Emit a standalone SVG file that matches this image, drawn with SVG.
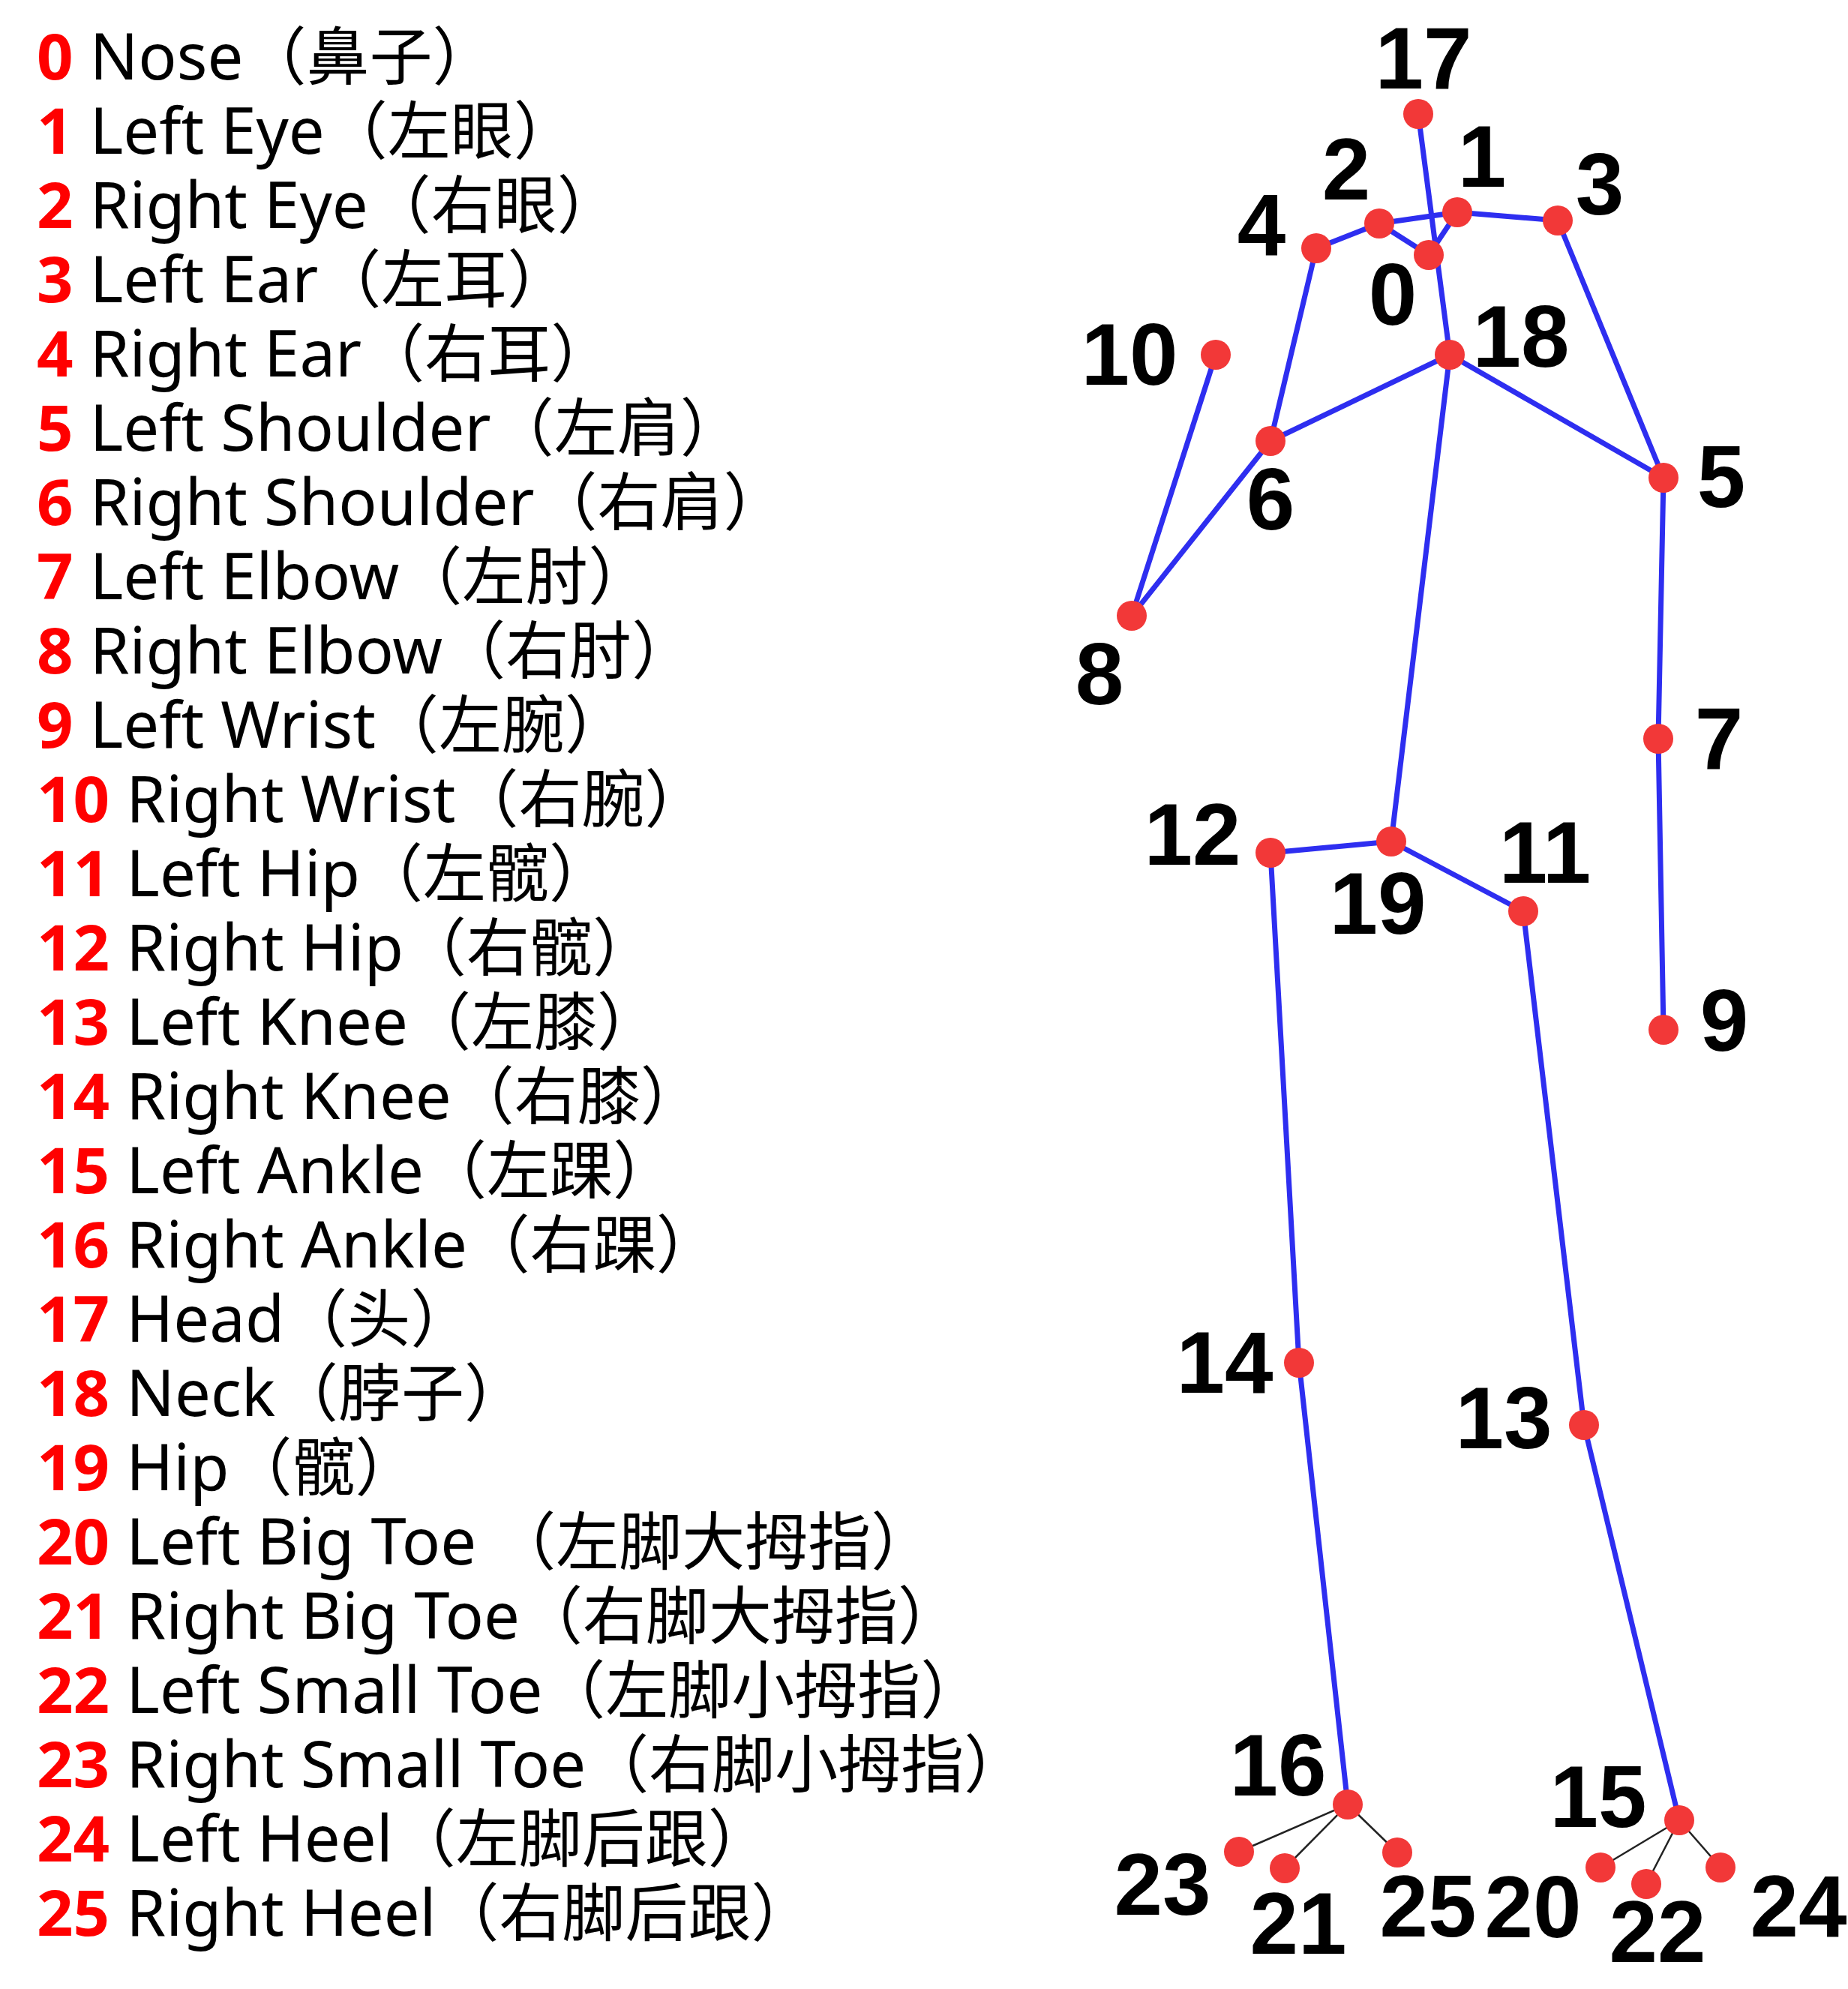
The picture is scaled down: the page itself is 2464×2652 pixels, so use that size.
<svg xmlns="http://www.w3.org/2000/svg" width="2464" height="2652" viewBox="0 0 2464 2652">
<style>
.leg{font-family:"Noto Sans","Noto Sans CJK SC",sans-serif;font-size:85px;fill:#000}
.num{font-weight:bold;fill:#ff0000}
.cj{font-size:84px}
.lbl{font-family:"Liberation Sans",Arial,sans-serif;font-weight:bold;font-size:116px;fill:#000;text-anchor:middle}
.dot{fill:#f23838}
.bone{stroke:#2e2ef0;stroke-width:7;stroke-linecap:round;fill:none}
.toe{stroke:#222;stroke-width:2.5;fill:none}
</style>
<rect width="2464" height="2652" fill="#fff"/>
<g id="legend" class="leg">
<text x="49" y="106"><tspan class="num">0</tspan> Nose<tspan class="cj">（鼻子）</tspan></text>
<text x="49" y="205"><tspan class="num">1</tspan> Left Eye<tspan class="cj">（左眼）</tspan></text>
<text x="49" y="304"><tspan class="num">2</tspan> Right Eye<tspan class="cj">（右眼）</tspan></text>
<text x="49" y="403"><tspan class="num">3</tspan> Left Ear<tspan class="cj">（左耳）</tspan></text>
<text x="49" y="502"><tspan class="num">4</tspan> Right Ear<tspan class="cj">（右耳）</tspan></text>
<text x="49" y="601"><tspan class="num">5</tspan> Left Shoulder<tspan class="cj">（左肩）</tspan></text>
<text x="49" y="700"><tspan class="num">6</tspan> Right Shoulder<tspan class="cj">（右肩）</tspan></text>
<text x="49" y="799"><tspan class="num">7</tspan> Left Elbow<tspan class="cj">（左肘）</tspan></text>
<text x="49" y="898"><tspan class="num">8</tspan> Right Elbow<tspan class="cj">（右肘）</tspan></text>
<text x="49" y="997"><tspan class="num">9</tspan> Left Wrist<tspan class="cj">（左腕）</tspan></text>
<text x="49" y="1096"><tspan class="num">10</tspan> Right Wrist<tspan class="cj">（右腕）</tspan></text>
<text x="49" y="1195"><tspan class="num">11</tspan> Left Hip<tspan class="cj">（左髋）</tspan></text>
<text x="49" y="1294"><tspan class="num">12</tspan> Right Hip<tspan class="cj">（右髋）</tspan></text>
<text x="49" y="1393"><tspan class="num">13</tspan> Left Knee<tspan class="cj">（左膝）</tspan></text>
<text x="49" y="1492"><tspan class="num">14</tspan> Right Knee<tspan class="cj">（右膝）</tspan></text>
<text x="49" y="1591"><tspan class="num">15</tspan> Left Ankle<tspan class="cj">（左踝）</tspan></text>
<text x="49" y="1690"><tspan class="num">16</tspan> Right Ankle<tspan class="cj">（右踝）</tspan></text>
<text x="49" y="1789"><tspan class="num">17</tspan> Head<tspan class="cj">（头）</tspan></text>
<text x="49" y="1888"><tspan class="num">18</tspan> Neck<tspan class="cj">（脖子）</tspan></text>
<text x="49" y="1987"><tspan class="num">19</tspan> Hip<tspan class="cj">（髋）</tspan></text>
<text x="49" y="2086"><tspan class="num">20</tspan> Left Big Toe <tspan class="cj">（左脚大拇指）</tspan></text>
<text x="49" y="2185"><tspan class="num">21</tspan> Right Big Toe<tspan class="cj">（右脚大拇指）</tspan></text>
<text x="49" y="2284"><tspan class="num">22</tspan> Left Small Toe<tspan class="cj">（左脚小拇指）</tspan></text>
<text x="49" y="2383"><tspan class="num">23</tspan> Right Small Toe<tspan class="cj">（右脚小拇指）</tspan></text>
<text x="49" y="2482"><tspan class="num">24</tspan> Left Heel<tspan class="cj">（左脚后跟）</tspan></text>
<text x="49" y="2581"><tspan class="num">25</tspan> Right Heel<tspan class="cj">（右脚后跟）</tspan></text>
</g>
<g id="connectors">
<g class="bone">
<line x1="1891" y1="152" x2="1933" y2="473"/>
<line x1="1943" y1="283" x2="1905" y2="340"/>
<line x1="1839" y1="298" x2="1905" y2="340"/>
<line x1="1839" y1="298" x2="1943" y2="283"/>
<line x1="1943" y1="283" x2="2077" y2="294"/>
<line x1="1755" y1="331" x2="1839" y2="298"/>
<line x1="1755" y1="331" x2="1694" y2="588"/>
<line x1="2077" y1="294" x2="2218" y2="637"/>
<line x1="1933" y1="473" x2="1694" y2="588"/>
<line x1="1933" y1="473" x2="2218" y2="637"/>
<line x1="1933" y1="473" x2="1855" y2="1122"/>
<line x1="1621" y1="473" x2="1509" y2="821"/>
<line x1="1694" y1="588" x2="1509" y2="821"/>
<line x1="2218" y1="637" x2="2211" y2="985"/>
<line x1="2211" y1="985" x2="2218" y2="1373"/>
<line x1="1855" y1="1122" x2="1694" y2="1137"/>
<line x1="1855" y1="1122" x2="2031" y2="1215"/>
<line x1="1694" y1="1137" x2="1732" y2="1817"/>
<line x1="1732" y1="1817" x2="1797" y2="2406"/>
<line x1="2031" y1="1215" x2="2112" y2="1900"/>
<line x1="2112" y1="1900" x2="2239" y2="2427"/>
</g>
<g class="toe">
<line x1="1797" y1="2406" x2="1652" y2="2469"/>
<line x1="1797" y1="2406" x2="1713" y2="2491"/>
<line x1="1797" y1="2406" x2="1863" y2="2470"/>
<line x1="2239" y1="2427" x2="2134" y2="2490"/>
<line x1="2239" y1="2427" x2="2195" y2="2512"/>
<line x1="2239" y1="2427" x2="2294" y2="2490"/>
</g>
</g>
<g id="kp0"><circle class="dot" cx="1905" cy="340" r="20"/><text class="lbl" x="1857" y="433">0</text></g>
<g id="kp1"><circle class="dot" cx="1943" cy="283" r="20"/><text class="lbl" x="1976" y="249">1</text></g>
<g id="kp2"><circle class="dot" cx="1839" cy="298" r="20"/><text class="lbl" x="1795" y="266">2</text></g>
<g id="kp3"><circle class="dot" cx="2077" cy="294" r="20"/><text class="lbl" x="2133" y="286">3</text></g>
<g id="kp4"><circle class="dot" cx="1755" cy="331" r="20"/><text class="lbl" x="1682" y="340">4</text></g>
<g id="kp5"><circle class="dot" cx="2218" cy="637" r="20"/><text class="lbl" x="2295" y="676">5</text></g>
<g id="kp6"><circle class="dot" cx="1694" cy="588" r="20"/><text class="lbl" x="1694" y="706">6</text></g>
<g id="kp7"><circle class="dot" cx="2211" cy="985" r="20"/><text class="lbl" x="2292" y="1025">7</text></g>
<g id="kp8"><circle class="dot" cx="1509" cy="821" r="20"/><text class="lbl" x="1466" y="939">8</text></g>
<g id="kp9"><circle class="dot" cx="2218" cy="1373" r="20"/><text class="lbl" x="2299" y="1401">9</text></g>
<g id="kp10"><circle class="dot" cx="1621" cy="473" r="20"/><text class="lbl" x="1506" y="513">10</text></g>
<g id="kp11"><circle class="dot" cx="2031" cy="1215" r="20"/><text class="lbl" x="2060" y="1177">11</text></g>
<g id="kp12"><circle class="dot" cx="1694" cy="1137" r="20"/><text class="lbl" x="1590" y="1153">12</text></g>
<g id="kp13"><circle class="dot" cx="2112" cy="1900" r="20"/><text class="lbl" x="2005" y="1931">13</text></g>
<g id="kp14"><circle class="dot" cx="1732" cy="1817" r="20"/><text class="lbl" x="1633" y="1857">14</text></g>
<g id="kp15"><circle class="dot" cx="2239" cy="2427" r="20"/><text class="lbl" x="2131" y="2436">15</text></g>
<g id="kp16"><circle class="dot" cx="1797" cy="2406" r="20"/><text class="lbl" x="1704" y="2394">16</text></g>
<g id="kp17"><circle class="dot" cx="1891" cy="152" r="20"/><text class="lbl" x="1898" y="118">17</text></g>
<g id="kp18"><circle class="dot" cx="1933" cy="473" r="20"/><text class="lbl" x="2028" y="489">18</text></g>
<g id="kp19"><circle class="dot" cx="1855" cy="1122" r="20"/><text class="lbl" x="1837" y="1245">19</text></g>
<g id="kp20"><circle class="dot" cx="2134" cy="2490" r="20"/><text class="lbl" x="2044" y="2583">20</text></g>
<g id="kp21"><circle class="dot" cx="1713" cy="2491" r="20"/><text class="lbl" x="1731" y="2605">21</text></g>
<g id="kp22"><circle class="dot" cx="2195" cy="2512" r="20"/><text class="lbl" x="2210" y="2616">22</text></g>
<g id="kp23"><circle class="dot" cx="1652" cy="2469" r="20"/><text class="lbl" x="1550" y="2553">23</text></g>
<g id="kp24"><circle class="dot" cx="2294" cy="2490" r="20"/><text class="lbl" x="2398" y="2582">24</text></g>
<g id="kp25"><circle class="dot" cx="1863" cy="2470" r="20"/><text class="lbl" x="1904" y="2582">25</text></g>
</svg>
